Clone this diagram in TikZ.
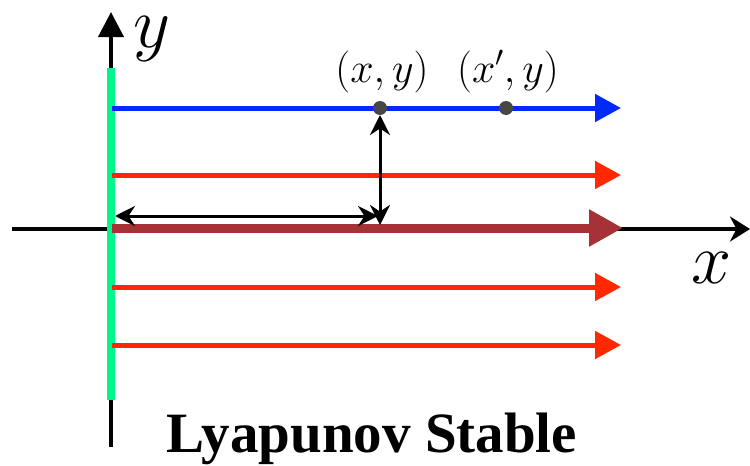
\RequirePackage{fix-cm}
\documentclass[tikz,border=0pt]{standalone}
\usepackage{fontspec}
\newfontfamily\titlefont{Liberation Serif}
\usetikzlibrary{arrows.meta}
\definecolor{flowred}{RGB}{255,40,0}
\definecolor{flowblue}{RGB}{0,40,255}
\definecolor{flowbrown}{RGB}{165,50,55}
\definecolor{stablegreen}{RGB}{0,245,140}
\tikzset{
axis/.style={
line width=4pt
},
axislbl/.style={
inner sep=0pt,
font=\fontsize{72}{72}\selectfont
},
flow/.style={
line width=5pt,
-{Triangle[length=26pt,width=27pt]}
},
measure/.style={
line width=3pt,
{Stealth[length=20pt,width=20pt]}-{Stealth[length=20pt,width=20pt]}
},
dot/.style={
circle,
fill=black!72,
inner sep=0pt,
minimum size=14pt
},
lbl/.style={
inner sep=0pt,
font=\fontsize{42}{44}\selectfont
}
}

\begin{document}
\begin{tikzpicture}[x=1pt,y=-1pt]
\useasboundingbox (0,0) rectangle (750,466);

% axes
\coordinate (xl) at (12,229);
\coordinate (xr) at (750,229);
\coordinate (yb) at (111,447);
\coordinate (yt) at (111,12);
\draw[axis,-{Stealth[length=20pt,width=25pt]}](xl)--(xr);
\draw[axis,-{Triangle[length=25pt,width=25pt]}](yb)--(yt);
\node[axislbl] (ylab) at (152,39) {$y$};
\node[axislbl] (xlab) at (712,268) {$x$};

% stable set
\coordinate (gb) at (111,400);
\coordinate (gt) at (111,68);
\draw[stablegreen,line width=8pt](gb)--(gt);

% flow lines
\foreach \r in {175,287,345}{
\coordinate (s\r) at (112,\r);
\coordinate (e\r) at (621,\r);
\draw[flow,flowred](s\r)--(e\r);
}
\coordinate (sb) at (112,108);
\coordinate (eb) at (621,108);
\draw[flow,flowblue](sb)--(eb);
\coordinate (sm) at (112,228);
\coordinate (em) at (623,228);
\draw[flowbrown,line width=9pt,-{Triangle[length=34pt,width=35pt]}](sm)--(em);

% points and distances
\node[dot] (p) at (380,108) {};
\node[dot] (q) at (506,108) {};
\node[lbl,anchor=base] (plab) at (382,82) {$(x,y)$};
\node[lbl,anchor=base] (qlab) at (508,82) {$(x',y)$};
\coordinate (ml) at (115,216);
\coordinate (mr) at (378,216);
\coordinate (vb) at (380,225);
\coordinate (vt) at (380,115);
\draw[measure](ml)--(mr);
\draw[measure](vb)--(vt);

\node[anchor=base,inner sep=0pt,font=\titlefont\bfseries\fontsize{57}{60}\selectfont] (title) at (372,452) {Lyapunov Stable};
\end{tikzpicture}
\end{document}
